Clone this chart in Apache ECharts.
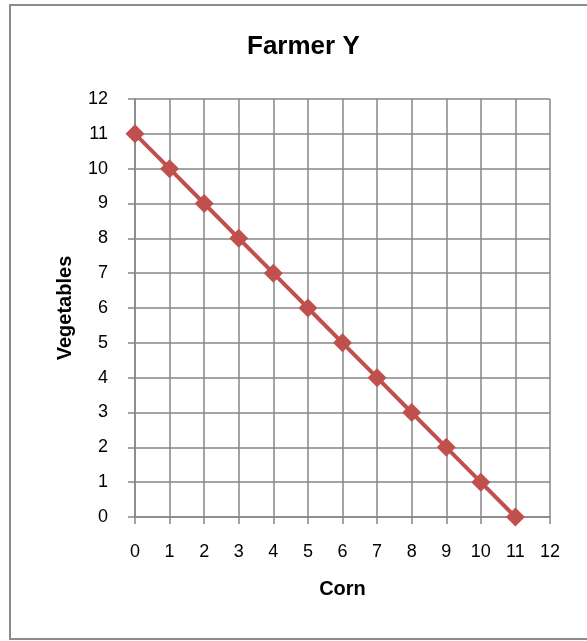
<!DOCTYPE html>
<html>
<head>
<meta charset="utf-8">
<script src="https://cdn.jsdelivr.net/npm/echarts@6/dist/echarts.min.js"></script>
<style>
  html, body { margin: 0; padding: 0; background: #fff; }
  #chart { width: 587px; height: 641px; }
</style>
</head>
<body>
<div id="chart"></div>
<script>
const corn = [0, 1, 2, 3, 4, 5, 6, 7, 8, 9, 10, 11]
const vegetables = [11, 10, 9, 8, 7, 6, 5, 4, 3, 2, 1, 0]

const points = corn.map((c, i) => [c, vegetables[i]])
const font = '"Liberation Sans", Arial, sans-serif'
const gridColor = '#868686'

const chart = echarts.init(document.getElementById('chart'), null, { renderer: 'canvas' })

chart.setOption({
  animation: false,
  backgroundColor: '#fff',
  title: {
    text: 'Farmer Y',
    left: 242,
    top: 29,
    textStyle: { fontFamily: font, fontSize: 26, fontWeight: 'bold', color: '#000' }
  },
  graphic: [{
    type: 'rect',
    shape: { x: 10, y: 5, width: 586, height: 634 },
    style: { fill: 'none', stroke: '#8c8c8c', lineWidth: 2 },
    silent: true
  }],
  grid: { left: 135, right: 37, top: 99, bottom: 124 },
  xAxis: {
    type: 'value',
    min: 0,
    max: 12,
    interval: 1,
    name: 'Corn',
    nameLocation: 'middle',
    nameGap: 62,
    nameTextStyle: { fontFamily: font, fontSize: 20, fontWeight: 'bold', color: '#000' },
    axisLine: { show: true, lineStyle: { color: gridColor, width: 1.5 } },
    axisTick: { show: true, length: 7, lineStyle: { color: gridColor, width: 1.5 } },
    axisLabel: { margin: 26, fontFamily: font, fontSize: 18, color: '#000' },
    splitLine: { show: true, lineStyle: { color: gridColor, width: 1.5 } }
  },
  yAxis: {
    type: 'value',
    min: 0,
    max: 12,
    interval: 1,
    name: 'Vegetables',
    nameLocation: 'middle',
    nameGap: 60,
    nameTextStyle: { fontFamily: font, fontSize: 20, fontWeight: 'bold', color: '#000' },
    axisLine: { show: true, lineStyle: { color: gridColor, width: 1.5 } },
    axisTick: { show: true, length: 7, lineStyle: { color: gridColor, width: 1.5 } },
    axisLabel: { margin: 27, fontFamily: font, fontSize: 18, color: '#000' },
    splitLine: { show: true, lineStyle: { color: gridColor, width: 1.5 } }
  },
  series: [{
    type: 'line',
    data: points,
    symbol: 'diamond',
    symbolSize: 19,
    lineStyle: { color: '#C0504D', width: 4 },
    itemStyle: { color: '#C0504D' }
  }]
})
</script>
</body>
</html>
